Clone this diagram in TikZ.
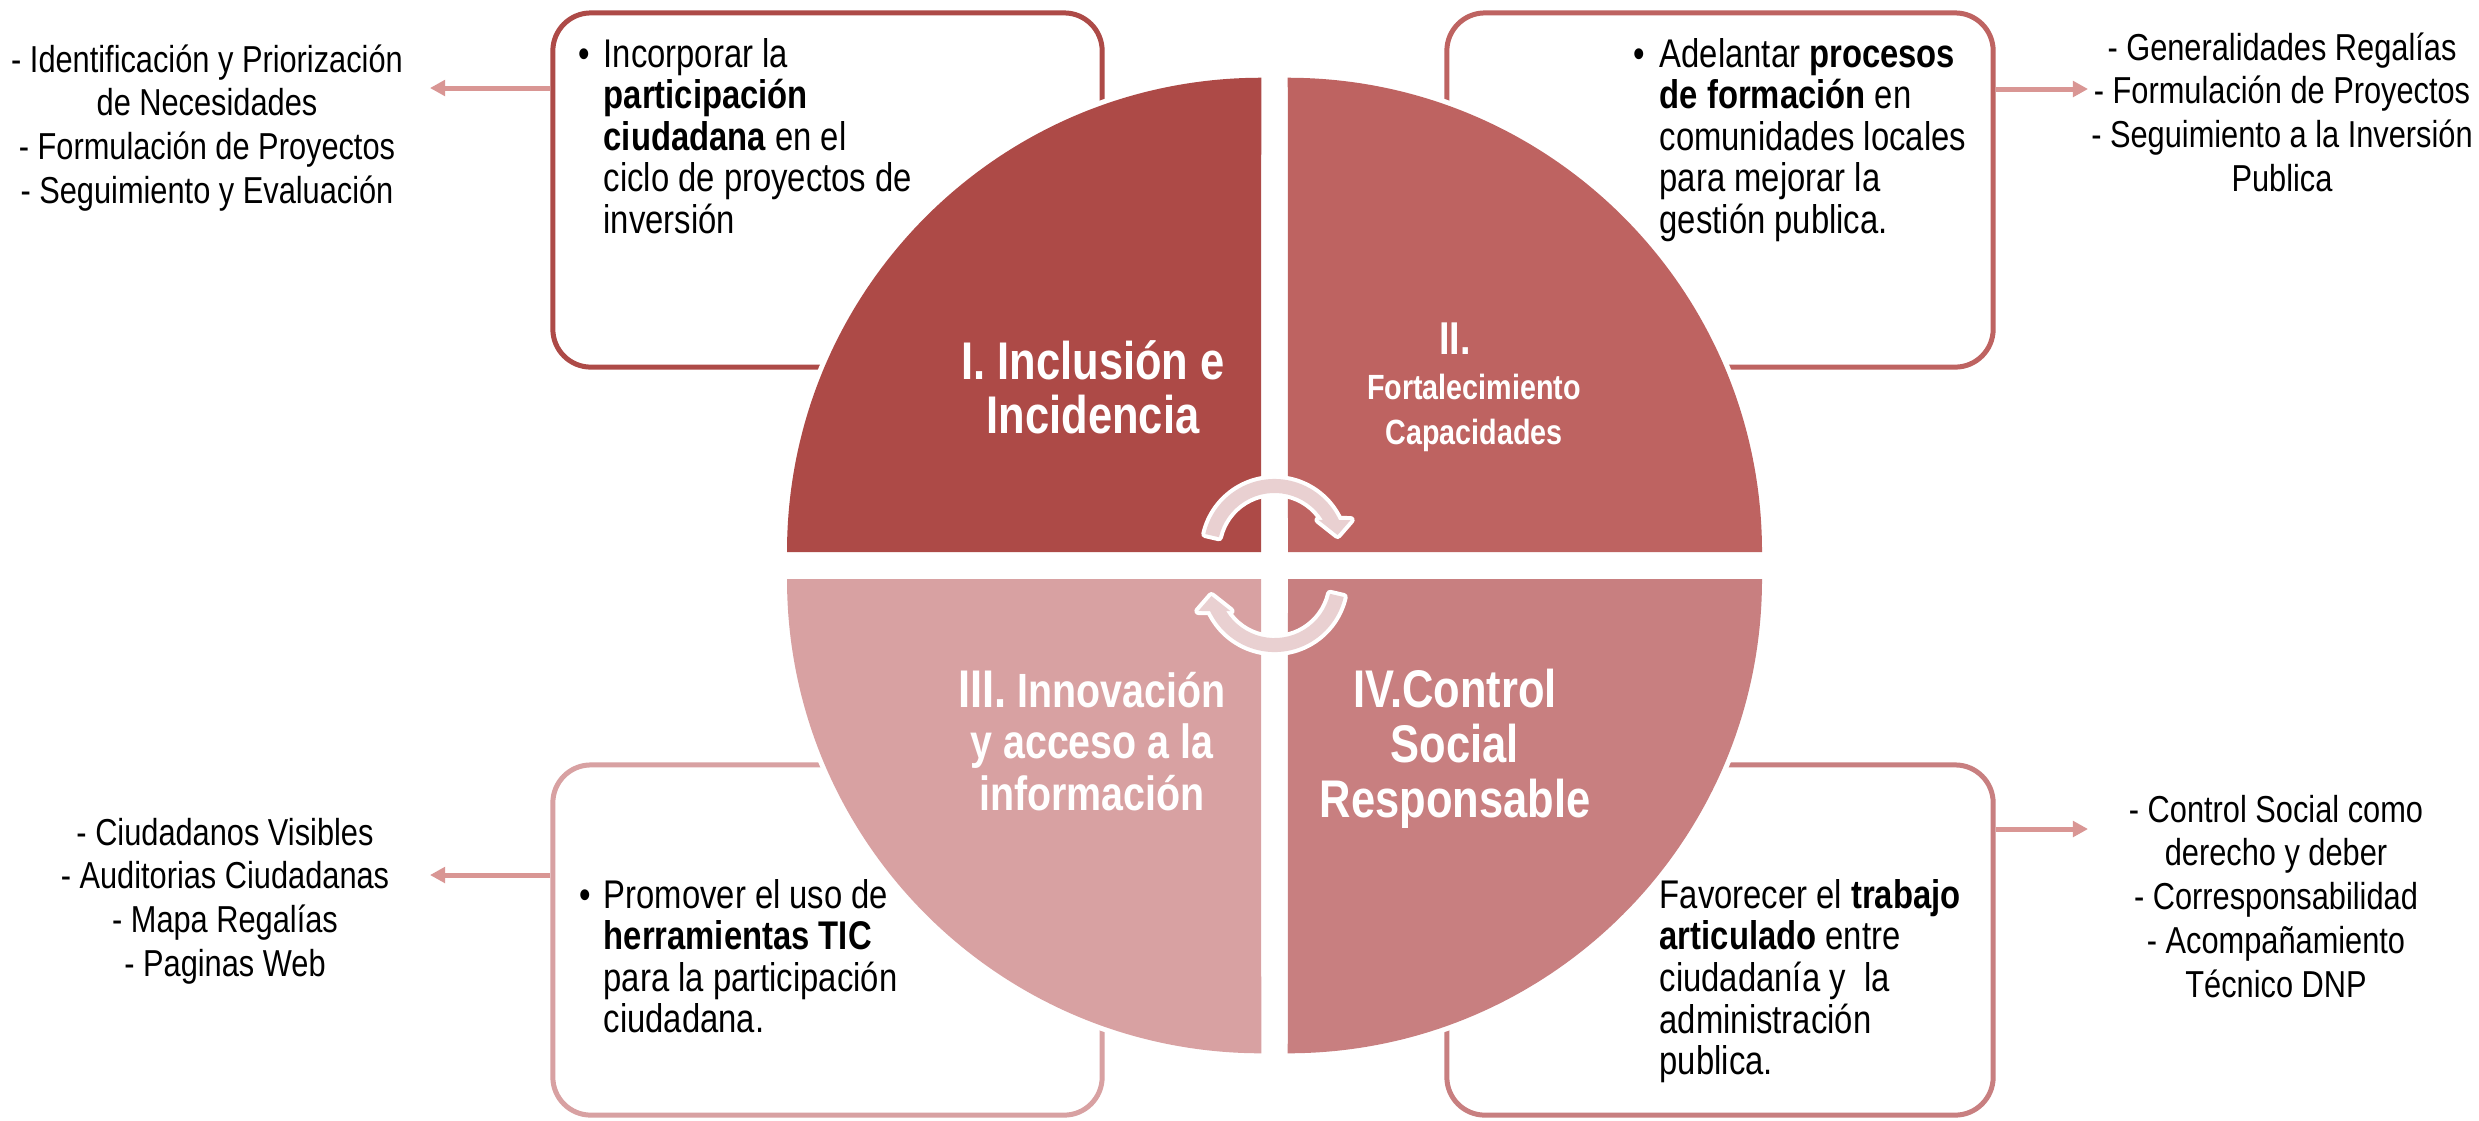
\documentclass[tikz,border=0pt]{standalone}
\usepackage{fontspec}
\setmainfont{Liberation Sans}[FakeStretch=0.82]
\usetikzlibrary{arrows.meta}
\definecolor{qa}{RGB}{173,74,71}
\definecolor{qb}{RGB}{190,99,97}
\definecolor{qc}{RGB}{216,161,162}
\definecolor{qd}{RGB}{200,127,128}
\definecolor{connc}{RGB}{217,150,148}
\definecolor{cycc}{RGB}{233,208,209}
\tikzset{
  panel/.style={rectangle, rounded corners=10.8pt, line width=1.42pt, fill=white, minimum width=5.49cm, inner sep=0pt},
  conn/.style={draw=connc, line width=1.42pt, -{Triangle[length=4.3pt,width=4.4pt]}},
  quad/.style={preaction={draw=white, line width=2.85pt}},
  cyc/.style={preaction={draw=white, line width=2.3pt, line join=round}, fill=cycc},
  listtxt/.style={anchor=base, inner sep=0pt, font=\fontsize{10.67pt}{12.44pt}\selectfont},
  boxtxt/.style={anchor=base west, inner sep=0pt, font=\fontsize{11.38pt}{11.75pt}\selectfont},
  bul/.style={anchor=base, inner sep=0pt, font=\fontsize{11.38pt}{11.75pt}\selectfont},
  lbl/.style={anchor=base, inner sep=0pt, text=white}
}
\begin{document}
\begin{tikzpicture}[x=0.01cm,y=-0.01cm]
\useasboundingbox (0,0) rectangle (2479,1120);
\fill[white] (0,0) rectangle (2479,1120);

% boxes
\node[panel, draw=qa, minimum height=3.54cm] (b1) at (827.5,190) {};
\node[panel, draw=qb, minimum height=3.54cm, minimum width=5.46cm] (b2) at (1720,190) {};
\node[panel, draw=qc, minimum height=3.50cm] (b3) at (827.5,940) {};
\node[panel, draw=qd, minimum height=3.50cm, minimum width=5.46cm] (b4) at (1720,940) {};

% connectors
\coordinate (e1) at (430,88);
\coordinate (e2) at (2088,89);
\coordinate (e3) at (430,875);
\coordinate (e4) at (2088,829);
\draw[conn] (b1.west |- e1) -- (e1);
\draw[conn] (b2.east |- e2) -- (e2);
\draw[conn] (b3.west |- e3) -- (e3);
\draw[conn] (b4.east |- e4) -- (e4);

% side lists
\node[listtxt] (t1) at (207,72) {\begin{tabular}[t]{@{}c@{}}- Identificación y Priorización\\de Necesidades\\- Formulación de Proyectos\\- Seguimiento y Evaluación\end{tabular}};
\node[listtxt] (t2) at (2282,60) {\begin{tabular}[t]{@{}c@{}}- Generalidades Regalías\\- Formulación de Proyectos\\- Seguimiento a la Inversión\\Publica\end{tabular}};
\node[listtxt] (t3) at (225,845) {\begin{tabular}[t]{@{}c@{}}- Ciudadanos Visibles\\- Auditorias Ciudadanas\\- Mapa Regalías\\- Paginas Web\end{tabular}};
\node[listtxt] (t4) at (2276,822) {\begin{tabular}[t]{@{}c@{}}- Control Social como\\derecho y deber\\- Corresponsabilidad\\- Acompañamiento\\Técnico DNP\end{tabular}};

% quadrants
\path[quad, fill=qa] (1261,552) -- ++(-474,0) arc[start angle=180, end angle=90, radius=4.74cm] -- cycle;
\path[quad, fill=qb] (1288,552) -- ++(474,0) arc[start angle=0, end angle=90, radius=4.74cm] -- cycle;
\path[quad, fill=qc] (1261,579) -- ++(-474,0) arc[start angle=180, end angle=270, radius=4.74cm] -- cycle;
\path[quad, fill=qd] (1288,579) -- ++(474,0) arc[start angle=0, end angle=-90, radius=4.74cm] -- cycle;

% quadrant labels
\node[lbl, font=\bfseries\fontsize{15.08pt}{15.08pt}\selectfont] (l1) at (1093,379) {\begin{tabular}[t]{@{}c@{}}I. Inclusión e\\Incidencia\end{tabular}};
\node[lbl, font=\bfseries\fontsize{9.96pt}{12.8pt}\selectfont] (l2) at (1474,354) {\begin{tabular}[t]{@{}c@{}}{\fontsize{13.09pt}{12.8pt}\selectfont II.}\hspace*{10.8pt}\\Fortalecimiento\\Capacidades\end{tabular}};
\node[lbl, font=\bfseries\fontsize{13.66pt}{14.65pt}\selectfont] (l3) at (1092,707) {\begin{tabular}[t]{@{}c@{}}{\fontsize{15.08pt}{14.65pt}\selectfont III.} Innovación\\y acceso a la\\información\end{tabular}};
\node[lbl, font=\bfseries\fontsize{15.08pt}{15.65pt}\selectfont] (l4) at (1455,707) {\begin{tabular}[t]{@{}c@{}}IV.Control\\Social\\Responsable\end{tabular}};

% box texts
\node[bul] (d1) at (584,67) {•};
\node[boxtxt] (x1) at (603,67) {\begin{tabular}[t]{@{}l@{}}Incorporar la\\\textbf{participación}\\\textbf{ciudadana} en el\\ciclo de proyectos de\\inversión\end{tabular}};
\node[bul] (d2) at (1639,67) {•};
\node[boxtxt] (x2) at (1659,67) {\begin{tabular}[t]{@{}l@{}}Adelantar \textbf{procesos}\\\textbf{de formación} en\\comunidades locales\\para mejorar la\\gestión publica.\end{tabular}};
\node[bul] (d3) at (585,908) {•};
\node[boxtxt] (x3) at (603,908) {\begin{tabular}[t]{@{}l@{}}Promover el uso de\\\textbf{herramientas TIC}\\para la participación\\ciudadana.\end{tabular}};
\node[boxtxt] (x4) at (1659,908) {\begin{tabular}[t]{@{}l@{}}Favorecer el \textbf{trabajo}\\\textbf{articulado} entre\\ciudadanía y\ \ la\\administración\\publica.\end{tabular}};

% cycle arrows
\begin{scope}[shift={(1274.5,550)}]
\path[cyc] (167:0.71cm) arc[start angle=167, end angle=25, radius=0.71cm] -- (21.5:0.817cm) -- (13.4:0.648cm) -- (34.3:0.533cm) -- (31.8:0.57cm) arc[start angle=31.8, end angle=167, radius=0.57cm] -- cycle;
\end{scope}
\begin{scope}[shift={(1274.5,581)}, rotate=180]
\path[cyc] (167:0.71cm) arc[start angle=167, end angle=25, radius=0.71cm] -- (21.5:0.817cm) -- (13.4:0.648cm) -- (34.3:0.533cm) -- (31.8:0.57cm) arc[start angle=31.8, end angle=167, radius=0.57cm] -- cycle;
\end{scope}
\end{tikzpicture}
\end{document}
